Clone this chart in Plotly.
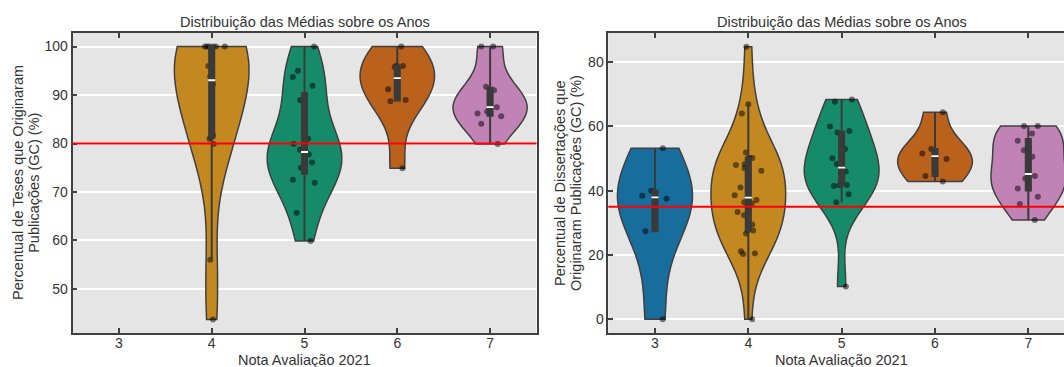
import numpy as np
import plotly.graph_objects as go

# ---------------- data ----------------
categories = [3, 4, 5, 6, 7]
tick_labels = ["3", "4", "5", "6", "7"]

# Left panel: Percentual de Teses que Originaram Publicações (GC) (%)
teses_nota4 = [43.7, 56.0, 79.9, 81.0, 81.3, 81.7, 91.4, 92.3, 93.8, 96.0,
               100.0, 100.0, 100.0, 100.0, 100.0, 100.0]
teses_nota5 = [59.9, 65.7, 71.9, 72.5, 75.0, 76.1, 77.3, 77.8, 78.7, 79.9,
               81.0, 88.9, 91.9, 93.7, 95.0, 100.0]
teses_nota6 = [74.9, 88.7, 89.0, 91.2, 95.8, 96.0, 96.1, 100.0]
teses_nota7 = [79.9, 84.1, 85.6, 86.2, 86.6, 87.5, 90.0, 91.0, 91.7, 100.0, 100.0]

# Right panel: Percentual de Dissertações que Originaram Publicações (GC) (%)
diss_nota3 = [0.0, 27.4, 37.5, 38.4, 40.0, 53.2]
diss_nota4 = [0.0, 20.3, 20.5, 21.2, 26.7, 27.6, 27.6, 29.5, 32.4, 33.4, 36.0,
              36.4, 37.1, 38.6, 41.0, 46.2, 47.0, 48.0, 48.2, 50.1, 50.2, 50.2,
              51.9, 64.0, 66.9, 84.8]
diss_nota5 = [10.2, 36.4, 38.9, 41.5, 41.7, 41.8, 45.9, 46.0, 48.3, 50.1, 53.0,
              58.1, 58.6, 60.0, 67.7, 68.4]
diss_nota6 = [42.9, 44.6, 49.9, 51.6, 53.0, 64.4]
diss_nota7 = [30.9, 35.9, 38.1, 40.7, 43.8, 44.6, 45.2, 50.6, 52.6, 55.5, 57.8,
              60.1, 60.1]

ref_teses = 80
ref_diss = 35

title_text = "Distribuição das Médias sobre os Anos"
xlabel = "Nota Avaliação 2021"
ylabel_left = ["Percentual de Teses que Originaram", "Publicações (GC) (%)"]
ylabel_right = ["Percentual de Dissertações que", "Originaram Publicações (GC) (%)"]

# ---------------- style ----------------
palette = {3: "#176D9C", 4: "#C38820", 5: "#168B6A", 6: "#BA611B", 7: "#C183B6"}
FONT = "Arial, 'Liberation Sans', sans-serif"
TXT = "#333333"
EDGE = "#404040"
BOXC = "#3a3a3a"

fig = go.Figure()


def add_violin(nota, vals, xa, ya):
    v = np.asarray(vals, dtype=float)
    bw = v.std(ddof=1) * len(v) ** -0.2  # scott's rule
    common = dict(x=[nota] * len(v), y=v, xaxis=xa, yaxis=ya,
                  width=0.8, scalemode="width", spanmode="hard", bandwidth=bw,
                  showlegend=False, hoverinfo="skip")
    fig.add_trace(go.Violin(
        **common, fillcolor=palette[nota], opacity=1,
        line=dict(color=EDGE, width=1.5), points=False,
        box=dict(visible=False), meanline=dict(visible=False),
    ))
    fig.add_trace(go.Box(
        x=[nota] * len(v), y=v, xaxis=xa, yaxis=ya,
        width=0.055, fillcolor=BOXC, line=dict(color=BOXC, width=2),
        whiskerwidth=0, boxpoints="outliers",
        marker=dict(size=1, opacity=0), showlegend=False, hoverinfo="skip",
    ))
    fig.add_trace(go.Violin(
        **common, fillcolor="rgba(0,0,0,0)", line=dict(color="rgba(0,0,0,0)", width=0),
        points="all", pointpos=0, jitter=0.4,
        marker=dict(color="rgba(0,0,0,0.5)", size=6, line=dict(width=0)),
        box=dict(visible=False), meanline=dict(visible=False),
    ))
    fig.add_trace(go.Scatter(
        x=[nota], y=[float(np.median(v))], xaxis=xa, yaxis=ya, mode="markers",
        marker=dict(symbol="line-ew", size=5, line=dict(color="white", width=1.8)),
        showlegend=False, hoverinfo="skip",
    ))


for nota, vals in [(4, teses_nota4), (5, teses_nota5), (6, teses_nota6), (7, teses_nota7)]:
    add_violin(nota, vals, "x", "y")
for nota, vals in [(3, diss_nota3), (4, diss_nota4), (5, diss_nota5), (6, diss_nota6), (7, diss_nota7)]:
    add_violin(nota, vals, "x2", "y2")

W, H = 1064, 367
top_px, bot_px = 33.0, 333.0
ydom = [1 - bot_px / H, 1 - top_px / H]

axis_common = dict(
    showline=True, linecolor=EDGE, linewidth=1.6,
    ticks="inside", ticklen=5, tickwidth=1.5, tickcolor=EDGE,
    tickfont=dict(family=FONT, size=14, color=TXT),
    zeroline=False,
)


def ann(text, xpx, ypx, size, angle=0):
    return dict(text=text, xref="paper", yref="paper", x=xpx / W, y=1 - ypx / H,
                xanchor="center", yanchor="middle", showarrow=False, textangle=angle,
                font=dict(family=FONT, size=size, color=TXT))


cxl = (72.5 + 536.5) / 2
cxr = (608.3 + 1075) / 2
cy = (top_px + bot_px) / 2

fig.update_layout(
    width=W, height=H, autosize=False,
    margin=dict(l=0, r=0, t=0, b=0),
    paper_bgcolor="white", plot_bgcolor="#e5e5e5",
    violinmode="overlay", boxmode="overlay",
    font=dict(family=FONT, color=TXT),
    xaxis=dict(domain=[72.5 / W, 536.5 / W], range=[2.5, 7.5], tickvals=categories,
               ticktext=tick_labels, showgrid=False, mirror="allticks", anchor="y",
               ticklabelstandoff=-4, **axis_common),
    yaxis=dict(domain=ydom, range=[40.9, 102.8], tickvals=[50, 60, 70, 80, 90, 100],
               showgrid=True, gridcolor="white", gridwidth=1.5, mirror=True, anchor="x",
               **axis_common),
    xaxis2=dict(domain=[608.3 / W, 1.0], range=[2.5, 7.5 - (1075 - 1064) / 93.3],
                tickvals=categories, ticktext=tick_labels, showgrid=False,
                mirror="allticks", anchor="y2", ticklabelstandoff=-4, **axis_common),
    yaxis2=dict(domain=ydom, range=[-4.24, 89.04], tickvals=[0, 20, 40, 60, 80],
                showgrid=True, gridcolor="white", gridwidth=1.5, mirror=False, anchor="x2",
                **axis_common),
    shapes=[
        dict(type="line", xref="x domain", yref="y", x0=0, x1=1, y0=ref_teses, y1=ref_teses,
             line=dict(color="red", width=2), layer="above"),
        dict(type="line", xref="x2 domain", yref="y2", x0=0, x1=1, y0=ref_diss, y1=ref_diss,
             line=dict(color="red", width=2), layer="above"),
    ],
    annotations=[
        ann(title_text, cxl, 21.7, 14.5),
        ann(title_text, cxr, 21.7, 14.5),
        ann(xlabel, cxl, 360, 14.5),
        ann(xlabel, cxr, 360, 14.5),
        ann(ylabel_left[0], 18.0, cy, 14.5, -90),
        ann(ylabel_left[1], 33.8, cy, 14.5, -90),
        ann(ylabel_right[0], 560.0, cy, 14.5, -90),
        ann(ylabel_right[1], 576.0, cy, 14.5, -90),
    ],
)

fig.write_html("out.html")
